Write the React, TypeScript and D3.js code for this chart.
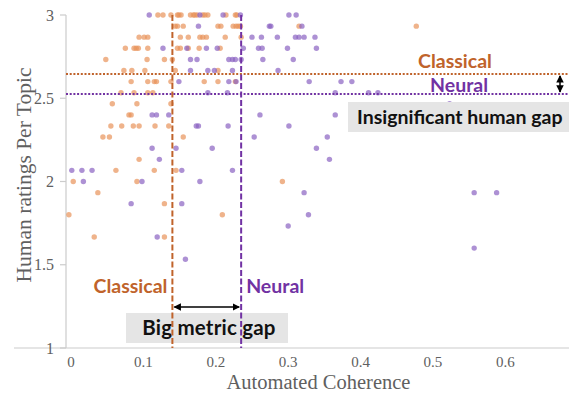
import React from 'react';
import * as d3 from 'd3';

// coherence (x) vs mean human rating (y), one dot per topic
const classicalPoints = [
  [0.120, 3], [0.127, 3], [0.138, 3], [0.147, 3], [0.149, 3], [0.152, 3], [0.165, 3], [0.169, 3],
  [0.171, 3], [0.174, 3], [0.182, 3], [0.185, 3], [0.189, 3], [0.214, 3], [0.227, 3], [0.229, 3],
  [0.144, 2.933], [0.147, 2.933], [0.155, 2.933], [0.203, 2.933], [0.207, 2.933], [0.224, 2.933],
  [0.228, 2.933], [0.231, 2.933], [0.234, 2.933], [0.315, 2.933], [0.477, 2.933],
  [0.094, 2.867], [0.101, 2.867], [0.106, 2.867], [0.151, 2.867], [0.162, 2.867], [0.178, 2.867],
  [0.182, 2.867], [0.187, 2.867], [0.213, 2.867], [0.235, 2.867],
  [0.075, 2.8], [0.087, 2.8], [0.090, 2.8], [0.093, 2.8], [0.106, 2.8], [0.147, 2.8], [0.151, 2.8],
  [0.162, 2.8], [0.177, 2.8], [0.206, 2.8],
  [0.048, 2.733], [0.105, 2.733], [0.129, 2.733], [0.140, 2.733],
  [0.073, 2.667], [0.084, 2.667], [0.102, 2.667], [0.144, 2.667], [0.203, 2.667],
  [0.083, 2.6], [0.106, 2.6], [0.115, 2.6], [0.118, 2.6], [0.138, 2.6], [0.184, 2.6], [0.203, 2.6], [0.227, 2.6],
  [0.069, 2.533], [0.087, 2.533], [0.106, 2.533], [0.113, 2.533],
  [0.057, 2.467], [0.091, 2.467], [0.138, 2.467],
  [0.080, 2.4], [0.083, 2.4],
  [0.055, 2.333], [0.070, 2.333], [0.086, 2.333], [0.094, 2.333], [0.116, 2.333], [0.135, 2.333],
  [0.044, 2.267], [0.053, 2.267], [0.155, 2.267],
  [0.094, 2.133],
  [0.062, 2.067], [0.115, 2.067], [0.145, 2.067],
  [0.003, 2], [0.091, 2], [0.292, 2],
  [0.037, 1.933],
  [0.129, 1.867],
  [-0.003, 1.8], [0.209, 1.8],
  [0.032, 1.667], [0.129, 1.667],
];

const neuralPoints = [
  [0.108, 3], [0.178, 3], [0.210, 3], [0.234, 3], [0.301, 3], [0.311, 3],
  [0.176, 2.933], [0.274, 2.933], [0.276, 2.933], [0.319, 2.933],
  [0.250, 2.867], [0.263, 2.867], [0.285, 2.867], [0.310, 2.867], [0.315, 2.867], [0.322, 2.867], [0.337, 2.867],
  [0.127, 2.8], [0.160, 2.8], [0.187, 2.8], [0.202, 2.8], [0.238, 2.8], [0.259, 2.8], [0.264, 2.8],
  [0.299, 2.8], [0.339, 2.8],
  [0.165, 2.733], [0.174, 2.733], [0.218, 2.733], [0.223, 2.733], [0.227, 2.733], [0.235, 2.733],
  [0.265, 2.733], [0.307, 2.733],
  [0.165, 2.667], [0.189, 2.667], [0.198, 2.667], [0.223, 2.667], [0.286, 2.667],
  [0.149, 2.6], [0.218, 2.6], [0.228, 2.6], [0.329, 2.6], [0.373, 2.6], [0.388, 2.6],
  [0.189, 2.533], [0.216, 2.533], [0.365, 2.533], [0.411, 2.533], [0.424, 2.533],
  [0.523, 2.467],
  [0.112, 2.4], [0.118, 2.4], [0.135, 2.4], [0.261, 2.4], [0.365, 2.4],
  [0.173, 2.333], [0.176, 2.333], [0.217, 2.333], [0.301, 2.333],
  [0.253, 2.267], [0.354, 2.267],
  [0.112, 2.2], [0.145, 2.2], [0.195, 2.2], [0.339, 2.2],
  [0.122, 2.133], [0.357, 2.133],
  [0.001, 2.067], [0.015, 2.067], [0.029, 2.067], [0.153, 2.067], [0.223, 2.067],
  [0.017, 2], [0.098, 2], [0.178, 2],
  [0.322, 1.933], [0.557, 1.933], [0.588, 1.933],
  [0.083, 1.867], [0.153, 1.867],
  [0.328, 1.8],
  [0.300, 1.733],
  [0.119, 1.667],
  [0.557, 1.6],
  [0.158, 1.533],
];

// means: [coherence, human rating]
const classicalMean = [0.140, 2.646];
const neuralMean = [0.235, 2.526];

const xTicks = [0, 0.1, 0.2, 0.3, 0.4, 0.5, 0.6];
const yTicks = [1, 1.5, 2, 2.5, 3];

const ORANGE_DOT = '#e8935a';
const PURPLE_DOT = '#8a62c2';
const ORANGE = '#c0632b';
const PURPLE = '#7132a3';
const AXIS = '#cccccc';
const TEXT = '#606060';
const LABEL_FONT = 'Lato, "Open Sans", sans-serif';
const SERIF = '"Liberation Serif", "DejaVu Serif", serif';

function App() {
  const width = 569;
  const height = 393;

  const x = d3.scaleLinear().domain([-0.007, 0.688]).range([66, 569]);
  const y = d3.scaleLinear().domain([1, 3]).range([348, 15]);

  const [x0, x1] = x.range();
  const [yBottom, yTop] = y.range();

  const cx = x(classicalMean[0]);
  const nx = x(neuralMean[0]);
  const cy = y(classicalMean[1]);
  const ny = y(neuralMean[1]);

  return (
    <svg width={width} height={height} style={{ position: 'absolute', left: 0, top: 0, background: '#fff' }}>
      <defs>
        <marker id="arrow" viewBox="0 0 8 8" refX="7" refY="4" markerWidth="5" markerHeight="5" orient="auto-start-reverse">
          <path d="M0,0 L8,4 L0,8 z" fill="#000" />
        </marker>
      </defs>

      {/* axes */}
      <line x1={14} x2={x1} y1={yBottom} y2={yBottom} stroke={AXIS} strokeWidth={1.2} />
      <line x1={x0} x2={x0} y1={yTop} y2={yBottom} stroke={AXIS} strokeWidth={1.2} />
      {yTicks.map(t => (
        <g key={t}>
          <line x1={x0 - 6} x2={x0} y1={y(t)} y2={y(t)} stroke={AXIS} strokeWidth={1.2} />
          <text x={x0 - 12} y={y(t)} dy="0.35em" textAnchor="end" fontFamily={SERIF} fontSize={16} fill={TEXT}>
            {t}
          </text>
        </g>
      ))}
      {xTicks.map(t => (
        <text key={t} x={x(t)} y={367} textAnchor="middle" fontFamily={SERIF} fontSize={15} fill={TEXT}>
          {t}
        </text>
      ))}
      <text x={(x0 + x1) / 2 + 1} y={389} textAnchor="middle" fontFamily={SERIF} fontSize={20.5} fill={TEXT}>
        Automated Coherence
      </text>
      <text transform={`translate(31,175) rotate(-90)`} textAnchor="middle" fontFamily={SERIF} fontSize={21.5} fill={TEXT}>
        Human ratings Per Topic
      </text>

      {/* dots */}
      {classicalPoints.map((d, i) => (
        <circle key={'c' + i} cx={x(d[0])} cy={y(d[1])} r={2.7} fill={ORANGE_DOT} fillOpacity={0.7} />
      ))}
      {neuralPoints.map((d, i) => (
        <circle key={'n' + i} cx={x(d[0])} cy={y(d[1])} r={2.7} fill={PURPLE_DOT} fillOpacity={0.7} />
      ))}

      {/* annotation boxes */}
      <rect x={348} y={102} width={230} height={30} fill="#e5e5e5" />
      <text x={357} y={124} fontFamily={LABEL_FONT} fontWeight={700} fontSize={19.5} fill="#111">
        Insignificant human gap
      </text>
      <rect x={126} y={313} width={162} height={30} fill="#e5e5e5" />
      <text x={209} y={335} textAnchor="middle" fontFamily={LABEL_FONT} fontWeight={700} fontSize={20.5} letterSpacing={0.2} fill="#111">
        Big metric gap
      </text>

      {/* mean lines */}
      <line x1={x0} x2={x1} y1={cy} y2={cy} stroke={ORANGE} strokeWidth={2} strokeDasharray="2 1.7" />
      <line x1={x0} x2={x1} y1={ny} y2={ny} stroke={PURPLE} strokeWidth={2} strokeDasharray="2 1.7" />
      <line x1={cx} x2={cx} y1={yTop} y2={yBottom} stroke={ORANGE} strokeWidth={2} strokeDasharray="6 2.5" />
      <line x1={nx} x2={nx} y1={yTop} y2={yBottom} stroke={PURPLE} strokeWidth={2} strokeDasharray="6 2.5" />

      {/* gap arrows */}
      <line x1={cx + 2} x2={nx - 2} y1={307} y2={307} stroke="#000" strokeWidth={1.5}
        markerStart="url(#arrow)" markerEnd="url(#arrow)" />
      <line x1={560} x2={560} y1={cy + 2} y2={ny - 2} stroke="#000" strokeWidth={1.5}
        markerStart="url(#arrow)" markerEnd="url(#arrow)" />

      {/* labels */}
      <text x={418} y={68} fontFamily={LABEL_FONT} fontWeight={700} fontSize={19.5} fill={ORANGE}>Classical</text>
      <text x={430} y={92} fontFamily={LABEL_FONT} fontWeight={700} fontSize={19.5} fill={PURPLE}>Neural</text>
      <text x={cx - 5} y={293} textAnchor="end" fontFamily={LABEL_FONT} fontWeight={700} fontSize={19.5} fill={ORANGE}>Classical</text>
      <text x={nx + 5} y={293} fontFamily={LABEL_FONT} fontWeight={700} fontSize={19.5} fill={PURPLE}>Neural</text>
    </svg>
  );
}

export default App;
